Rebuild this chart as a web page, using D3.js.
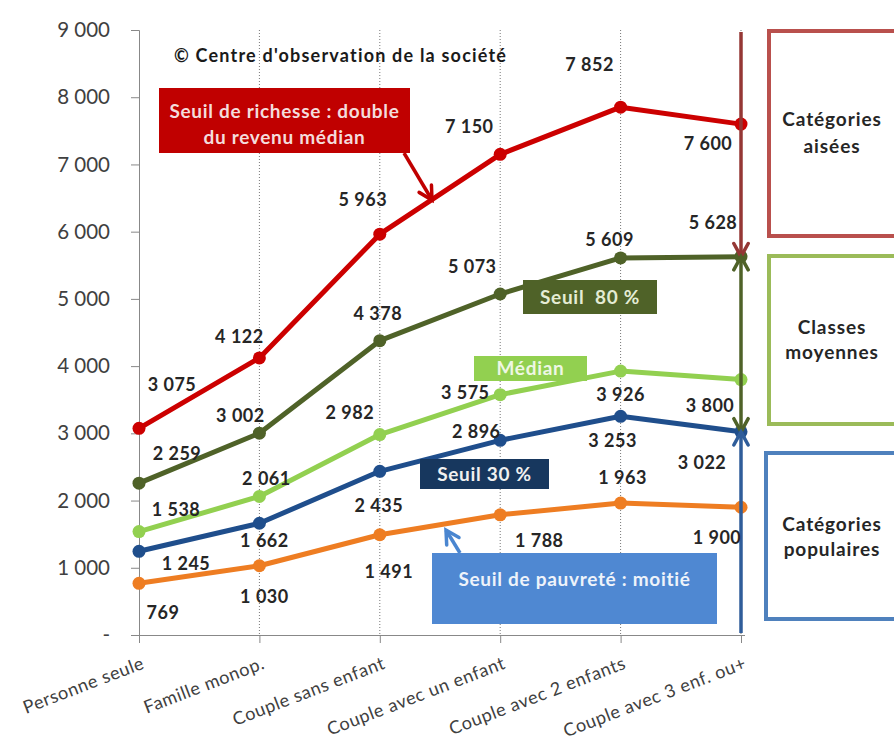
<!DOCTYPE html>
<html>
<head>
<meta charset="utf-8">
<script src="https://cdn.jsdelivr.net/npm/d3@7"></script>
<style>
  body { margin: 0; background: #fff; }
  svg { display: block; font-family: Lato, "Open Sans", sans-serif; }
</style>
</head>
<body>
<svg id="chart" width="894" height="740"></svg>
<script>
// categories and values (euros per month)
const categories = ["Personne seule", "Famille monop.", "Couple sans enfant",
  "Couple avec un enfant", "Couple avec 2 enfants", "Couple avec 3 enf. ou+"];
const richesse = [3075, 4122, 5963, 7150, 7852, 7600];
const seuil80 = [2259, 3002, 4378, 5073, 5609, 5628];
const median = [1538, 2061, 2982, 3575, 3926, 3800];
const seuil30 = [1245, 1662, 2435, 2896, 3253, 3022];
const pauvrete = [769, 1030, 1491, 1788, 1963, 1900];
const yTicks = [0, 1000, 2000, 3000, 4000, 5000, 6000, 7000, 8000, 9000];

// label offsets (pixels from the point), one list per series
const offsets = {
  richesse: [[33, -44], [-20, -21], [-17, -34], [-31, -28], [-31, -42], [-33, 20]],
  seuil80: [[38, -29], [-19, -17], [-2, -27], [-28, -27], [-11, -18], [-28, -34]],
  median: [[37, -22], [7, -18], [-30, -22], [-35, -2], [0, 24], [-31, 26]],
  seuil30: [[47, 12], [5, 17], [-1, 34], [-24, -9], [-8, 24], [-39, 31]],
  pauvrete: [[24, 29], [5, 31], [9, 37], [39, 26], [2, -25], [-24, 30]]
};

const series = [
  { key: "pauvrete", values: pauvrete, color: "#ee7d22" },
  { key: "seuil30", values: seuil30, color: "#1f4e8c" },
  { key: "median", values: median, color: "#92d050" },
  { key: "seuil80", values: seuil80, color: "#4f6228" },
  { key: "richesse", values: richesse, color: "#cc0000" }
];

const svg = d3.select("#chart");
const x = d3.scalePoint().domain(categories).range([139, 741]);
const y = d3.scaleLinear().domain([0, 9000]).range([635, 30]);

const fr = d3.formatLocale({ decimal: ",", thousands: " ", grouping: [3], currency: ["", " €"] });
const fmt = v => v === 0 ? "-" : fr.format(",")(v);

// vertical dotted gridlines
svg.append("g")
  .selectAll("line")
  .data(categories.slice(1))
  .join("line")
  .attr("x1", d => x(d)).attr("x2", d => x(d))
  .attr("y1", y(9000)).attr("y2", y(0))
  .attr("stroke", "#777").attr("stroke-width", 1)
  .attr("stroke-dasharray", "1,2");

// y axis
const yAxis = svg.append("g")
  .attr("transform", `translate(${x(categories[0])},0)`)
  .call(d3.axisLeft(y).tickValues(yTicks).tickFormat(fmt).tickSize(8).tickPadding(21));
yAxis.select(".domain").attr("stroke", "#888");
yAxis.selectAll(".tick line").attr("stroke", "#888");
yAxis.selectAll(".tick text")
  .attr("fill", "#404040").attr("font-size", 20.5)
  .attr("font-family", "Lato, sans-serif");

// x axis
const xAxis = svg.append("g")
  .attr("transform", `translate(0,${y(0)})`)
  .call(d3.axisBottom(x).tickSize(8).tickSizeOuter(0));
xAxis.select(".domain").attr("stroke", "#888").attr("d", `M131,0.5H745`);
xAxis.selectAll(".tick line").attr("stroke", "#888");
xAxis.selectAll(".tick text")
  .attr("fill", "#404040").attr("font-size", 18)
  .attr("letter-spacing", 0.6)
  .attr("font-family", "Lato, sans-serif")
  .attr("text-anchor", "end")
  .attr("dy", null)
  .attr("transform", "translate(6,33) rotate(-21)")
  .attr("y", 0);

// lines and markers
const line = d3.line().x((d, i) => x(categories[i])).y(d => y(d));
series.forEach(s => {
  svg.append("path")
    .attr("d", line(s.values))
    .attr("fill", "none")
    .attr("stroke", s.color)
    .attr("stroke-width", 5)
    .attr("stroke-linejoin", "round");
  svg.append("g")
    .selectAll("circle")
    .data(s.values)
    .join("circle")
    .attr("cx", (d, i) => x(categories[i]))
    .attr("cy", d => y(d))
    .attr("r", 6.5)
    .attr("fill", s.color);
});

// open "V" arrow head
function arrowHead(g, tx, ty, angle, color, size = 15) {
  const a1 = angle + Math.PI - 0.5, a2 = angle + Math.PI + 0.5;
  g.append("path")
    .attr("d", `M${tx + size * Math.cos(a1)},${ty + size * Math.sin(a1)}L${tx},${ty}L${tx + size * Math.cos(a2)},${ty + size * Math.sin(a2)}`)
    .attr("fill", "none").attr("stroke", color).attr("stroke-width", 3.5)
    .attr("stroke-linecap", "round").attr("stroke-linejoin", "miter");
}
function arrow(x1, y1, x2, y2, color, both) {
  const g = svg.append("g");
  g.append("line").attr("x1", x1).attr("y1", y1).attr("x2", x2).attr("y2", y2)
    .attr("stroke", color).attr("stroke-width", 3.5);
  const ang = Math.atan2(y2 - y1, x2 - x1);
  arrowHead(g, x2, y2, ang, color);
  if (both) arrowHead(g, x1, y1, ang + Math.PI, color);
}

// right-side brackets
const xr = x(categories[5]);
const last = categories.length - 1;
arrow(xr, y(9000) + 2, xr, y(seuil80[last]), "#953735");
arrow(xr, y(seuil80[last]), xr, y(seuil30[last]), "#4f6228", true);
arrow(xr, y(0) - 2, xr, y(seuil30[last]), "#2f5d9a");

// data labels
series.forEach(s => {
  svg.append("g")
    .selectAll("text")
    .data(s.values)
    .join("text")
    .attr("x", (d, i) => x(categories[i]) + offsets[s.key][i][0])
    .attr("y", (d, i) => y(d) + offsets[s.key][i][1])
    .attr("dy", "0.35em")
    .attr("text-anchor", "middle")
    .attr("font-size", 18).attr("font-weight", "bold")
    .attr("letter-spacing", 0.5)
    .attr("fill", "#262626")
    .text(d => fmt(d));
});

// copyright
svg.append("text")
  .attr("x", 174).attr("y", 62)
  .attr("font-size", 18).attr("font-weight", "bold").attr("fill", "#1a1a1a")
  .attr("letter-spacing", 1.2)
  .text("© Centre d'observation de la société");

// callout boxes
function box(x0, y0, w, h, fill, lines, textColor, ty) {
  const g = svg.append("g");
  g.append("rect").attr("x", x0).attr("y", y0).attr("width", w).attr("height", h).attr("fill", fill);
  lines.forEach((t, i) => g.append("text")
    .attr("x", x0 + w / 2).attr("y", ty[i])
    .attr("text-anchor", "middle").attr("font-size", 19).attr("font-weight", "bold")
    .attr("letter-spacing", 0.7)
    .attr("fill", textColor).text(t));
}
arrow(404, 153, 432, 200, "#c00000");
box(159, 88, 251, 65, "#c00000", ["Seuil de richesse : double", "du revenu médian"], "#f4dcdc", [118, 144]);
box(523, 280, 134, 34, "#4f6228", ["Seuil \u00a080 %"], "#e4ecd4", [304]);
box(474, 356, 113, 25, "#92d050", ["Médian"], "#eef7e4", [375]);
box(420, 459, 129, 30, "#17375e", ["Seuil 30 %"], "#f0f0f0", [481]);
arrow(460, 553, 446, 530, "#4a86d0");
box(432, 553, 285, 71, "#4f88d2", ["Seuil de pauvreté : moitié"], "#eef3fa", [586]);

// category frames on the right
function frame(x0, y0, h, color, lines, ty) {
  svg.append("rect").attr("x", x0).attr("y", y0).attr("width", 200).attr("height", h)
    .attr("fill", "none").attr("stroke", color).attr("stroke-width", 4);
  lines.forEach((t, i) => svg.append("text")
    .attr("x", 832).attr("y", ty[i])
    .attr("text-anchor", "middle").attr("font-size", 19).attr("font-weight", "bold")
    .attr("letter-spacing", 0.9)
    .attr("fill", "#262626").text(t));
}
frame(769, 31, 205, "#b9504d", ["Catégories", "aisées"], [126, 153]);
frame(769, 256, 168, "#9bbb59", ["Classes", "moyennes"], [334, 359]);
frame(766, 453, 166, "#4f81bd", ["Catégories", "populaires"], [531, 556]);
</script>
</body>
</html>
